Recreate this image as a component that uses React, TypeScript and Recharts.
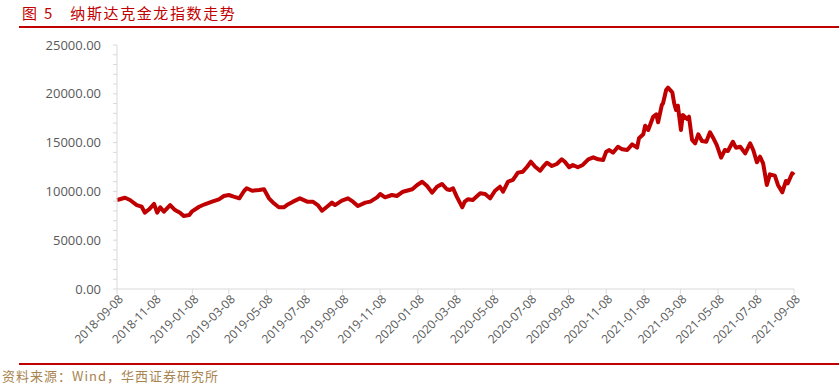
import { Line, LineChart, XAxis, YAxis } from 'recharts'

const RED = '#C00000'
const AXIS_GRAY = '#D9D9D9'
const LABEL_GRAY = '#595959'

const dates = [
  '2018-09-08', '2018-09-21', '2018-09-29', '2018-10-10', '2018-10-18', '2018-10-23', '2018-10-30', '2018-11-07',
  '2018-11-12', '2018-11-17', '2018-11-23', '2018-12-03', '2018-12-11', '2018-12-19', '2018-12-25', '2019-01-03',
  '2019-01-07', '2019-01-19', '2019-01-28', '2019-02-09', '2019-02-20', '2019-02-28', '2019-03-08', '2019-03-16',
  '2019-03-25', '2019-04-02', '2019-04-06', '2019-04-15', '2019-04-26', '2019-05-04', '2019-05-12', '2019-05-20',
  '2019-05-28', '2019-06-05', '2019-06-10', '2019-06-20', '2019-07-01', '2019-07-13', '2019-07-22', '2019-07-30',
  '2019-08-06', '2019-08-14', '2019-08-22', '2019-08-27', '2019-09-07', '2019-09-17', '2019-09-25', '2019-10-03',
  '2019-10-15', '2019-10-23', '2019-11-03', '2019-11-08', '2019-11-16', '2019-11-27', '2019-12-05', '2019-12-15',
  '2019-12-30', '2020-01-07', '2020-01-15', '2020-01-23', '2020-01-31', '2020-02-08', '2020-02-16', '2020-02-24',
  '2020-02-29', '2020-03-05', '2020-03-11', '2020-03-20', '2020-03-24', '2020-03-29', '2020-04-06', '2020-04-18',
  '2020-04-26', '2020-05-04', '2020-05-12', '2020-05-20', '2020-05-25', '2020-06-02', '2020-06-10', '2020-06-18',
  '2020-06-26', '2020-07-03', '2020-07-09', '2020-07-16', '2020-07-24', '2020-07-29', '2020-08-04', '2020-08-12',
  '2020-08-20', '2020-08-28', '2020-09-02', '2020-09-09', '2020-09-15', '2020-09-23', '2020-10-01', '2020-10-10',
  '2020-10-18', '2020-10-26', '2020-11-03', '2020-11-08', '2020-11-13', '2020-11-19', '2020-11-27', '2020-12-04',
  '2020-12-12', '2020-12-20', '2020-12-28', '2020-12-31', '2021-01-07', '2021-01-10', '2021-01-15', '2021-01-23',
  '2021-01-28', '2021-01-31', '2021-02-06', '2021-02-08', '2021-02-13', '2021-02-16', '2021-02-23', '2021-02-26',
  '2021-03-01', '2021-03-04', '2021-03-09', '2021-03-12', '2021-03-19', '2021-03-22', '2021-03-27', '2021-04-01',
  '2021-04-06', '2021-04-12', '2021-04-19', '2021-04-25', '2021-04-30', '2021-05-06', '2021-05-13', '2021-05-19',
  '2021-05-24', '2021-06-01', '2021-06-06', '2021-06-13', '2021-06-21', '2021-06-29', '2021-07-04', '2021-07-10',
  '2021-07-15', '2021-07-20', '2021-07-26', '2021-07-31', '2021-08-08', '2021-08-13', '2021-08-20', '2021-08-26',
  '2021-08-29', '2021-09-05', '2021-09-08',
]

const indexValues = [
  9120, 9350, 9120, 8600, 8430, 7820, 8170, 8710,
  7820, 8370, 7920, 8600, 8090, 7820, 7480, 7580,
  7920, 8430, 8680, 8950, 9190, 9530, 9630, 9460,
  9290, 10070, 10320, 10070, 10140, 10220, 9290, 8780,
  8370, 8370, 8600, 8950, 9290, 8950, 8950, 8600,
  8020, 8430, 8850, 8600, 9050, 9290, 8950, 8500,
  8850, 8950, 9390, 9730, 9390, 9630, 9530, 9970,
  10220, 10660, 10990, 10550, 9870, 10480, 10760, 10220,
  10140, 10320, 9460, 8370, 8950, 9190, 9120, 9800,
  9730, 9290, 10070, 10480, 9970, 10990, 11170, 11920,
  12020, 12530, 13040, 12530, 12120, 12530, 12940, 12600,
  12810, 13290, 13040, 12470, 12710, 12470, 12710, 13290,
  13490, 13290, 13220, 14070, 14240, 13970, 14580, 14310,
  14240, 14820, 14480, 15440, 15850, 16730, 16290, 17650,
  17900, 17080, 18850, 19030, 20390, 20630, 20150, 19030,
  18340, 18780, 16290, 17830, 17420, 17650, 15270, 14930,
  15850, 15160, 15090, 16060, 15500, 14750, 13450, 14240,
  14140, 15090, 14480, 14580, 13900, 14930, 14240, 12980,
  13560, 12880, 10660, 11750, 11610, 10660, 9910, 11070,
  10830, 11860, 11680,
]

const tickDates = [
  '2018-09-08', '2018-11-08', '2019-01-08', '2019-03-08', '2019-05-08', '2019-07-08', '2019-09-08',
  '2019-11-08', '2020-01-08', '2020-03-08', '2020-05-08', '2020-07-08', '2020-09-08', '2020-11-08',
  '2021-01-08', '2021-03-08', '2021-05-08', '2021-07-08', '2021-09-08',
]

// minor tick every 1000, label every 5000
const yTicks = [
  0, 1000, 2000, 3000, 4000, 5000, 6000, 7000, 8000, 9000, 10000, 11000, 12000,
  13000, 14000, 15000, 16000, 17000, 18000, 19000, 20000, 21000, 22000, 23000, 24000, 25000,
]

const data = dates.map((d, i) => ({ t: Date.parse(d), v: indexValues[i] }))
const xTicks = tickDates.map((d) => Date.parse(d))

const TICK_FONT = '"Open Sans", "Noto Sans", sans-serif'
const CJK_FONT = '"Noto Sans CJK SC", sans-serif'

function XTick({ x, y, payload }: any) {
  const label = new Date(payload.value).toISOString().slice(0, 10)
  const ax = x + 4
  const ay = y + 1
  return (
    <text x={ax} y={ay} dy="0.35em" textAnchor="end" transform={`rotate(-45, ${ax}, ${ay})`}
          fill={LABEL_GRAY} fontSize={12} fontFamily={TICK_FONT}>
      {label}
    </text>
  )
}

function YTick({ x, y, payload }: any) {
  if (payload.value % 5000 !== 0) return <g />
  return (
    <text x={x} y={y} dy="0.35em" textAnchor="end" fill={LABEL_GRAY} fontSize={13} fontFamily={TICK_FONT}>
      {payload.value.toFixed(2)}
    </text>
  )
}

export default function App() {
  return (
    <div style={{ position: 'absolute', left: 0, top: 0, width: 839, height: 387, background: '#fff', overflow: 'hidden' }}>
      <div style={{ position: 'absolute', left: 22, top: 3, color: RED, fontFamily: CJK_FONT, fontSize: 15, lineHeight: '20px', whiteSpace: 'nowrap' }}>
        <span>图</span>
        <span style={{ marginLeft: 7 }}>5</span>
        <span style={{ marginLeft: 18, letterSpacing: 1.6 }}>纳斯达克金龙指数走势</span>
      </div>
      <div style={{ position: 'absolute', left: 19, right: 0, top: 26, height: 2, background: RED }} />
      <LineChart width={839} height={387} data={data} margin={{ top: 45, right: 45, left: 0, bottom: 0 }}>
        <XAxis dataKey="t" type="number" domain={[xTicks[0], xTicks[xTicks.length - 1]]} ticks={xTicks}
               height={98} tick={<XTick />} tickSize={5} tickMargin={2} interval={0}
               axisLine={{ stroke: AXIS_GRAY }} tickLine={{ stroke: AXIS_GRAY }} />
        <YAxis type="number" domain={[0, 25000]} ticks={yTicks} width={117} interval={0}
               tick={<YTick />} tickSize={4} tickMargin={12}
               axisLine={{ stroke: AXIS_GRAY }} tickLine={{ stroke: AXIS_GRAY }} />
        <Line dataKey="v" type="linear" stroke={RED} strokeWidth={4} dot={false}
              strokeLinejoin="round" isAnimationActive={false} />
      </LineChart>
      <div style={{ position: 'absolute', left: 19, right: 0, top: 363, height: 2, background: RED }} />
      <div style={{ position: 'absolute', left: 2, top: 367, color: '#A88450', fontFamily: CJK_FONT, fontSize: 13, lineHeight: '18px', letterSpacing: 1, whiteSpace: 'nowrap' }}>
        资料来源：Wind，华西证券研究所
      </div>
    </div>
  )
}
